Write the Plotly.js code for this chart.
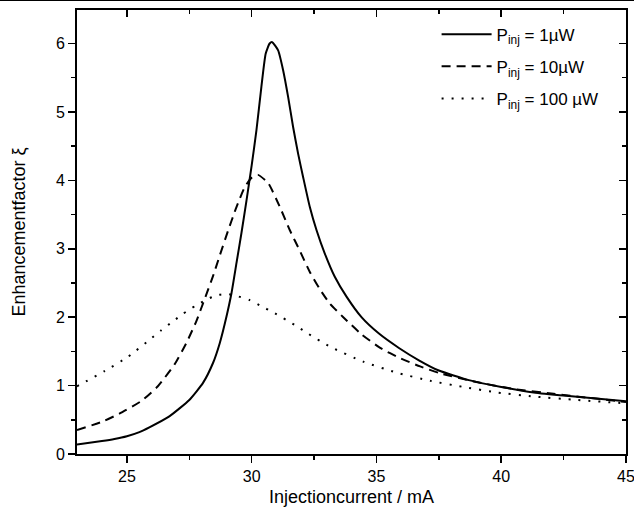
<!DOCTYPE html>
<html>
<head>
<meta charset="utf-8">
<script src="https://cdn.plot.ly/plotly-3.0.1.min.js"></script>
<style>
html,body{margin:0;padding:0;background:#fff;}
#wrap{position:relative;width:634px;height:520px;}
#topline{position:absolute;left:0;top:0;width:634px;height:1px;background:#000;z-index:10;}
#chart{width:634px;height:520px;}
</style>
</head>
<body>
<div id="wrap"><div id="topline"></div><div id="chart"></div></div>
<script>
// Series 1: P_inj = 1 µW (solid)
const current1 = [23, 24, 24.5, 25, 25.5, 25.9, 26.7, 27.5, 28.05, 28.45, 28.72, 28.99, 29.19, 29.39, 29.59, 29.79, 30.0, 30.19, 30.39, 30.56, 30.72, 30.82, 31.06, 31.26, 31.46, 31.66, 31.86, 32.06, 32.33, 32.6, 32.93, 33.33, 33.8, 34.4, 35.1, 35.9, 36.7, 37.5, 38.7, 40, 41.3, 42.6, 45];
const enh1     = [0.14, 0.19, 0.22, 0.26, 0.32, 0.39, 0.55, 0.79, 1.04, 1.33, 1.62, 2.01, 2.35, 2.79, 3.23, 3.70, 4.22, 4.73, 5.37, 5.85, 6.00, 6.02, 5.90, 5.61, 5.22, 4.78, 4.39, 4.05, 3.61, 3.27, 2.93, 2.59, 2.30, 2.00, 1.76, 1.55, 1.37, 1.22, 1.08, 0.98, 0.90, 0.85, 0.77];
// Series 2: P_inj = 10 µW (dashed)
const current2 = [23, 24, 24.7, 25.6, 26.24, 26.91, 27.38, 27.78, 28.12, 28.45, 28.72, 29.05, 29.39, 29.72, 30.0, 30.25, 30.66, 31.13, 31.53, 31.93, 32.33, 32.73, 33.13, 33.67, 34.4, 35.15, 35.95, 36.75, 37.55, 38.9, 40.5, 42.1, 45];
const enh2     = [0.35, 0.47, 0.59, 0.78, 0.99, 1.31, 1.62, 1.94, 2.27, 2.60, 2.90, 3.26, 3.61, 3.90, 4.04, 4.08, 3.96, 3.61, 3.27, 2.97, 2.66, 2.41, 2.20, 2.00, 1.75, 1.55, 1.40, 1.28, 1.18, 1.06, 0.95, 0.88, 0.76];
// Series 3: P_inj = 100 µW (dotted)
const current3 = [23, 24.1, 25.04, 25.91, 26.38, 26.85, 27.25, 27.72, 28.2, 28.59, 29.0, 29.4, 29.92, 30.39, 30.86, 31.8, 32.26, 33.13, 34.47, 35.8, 37.15, 38.48, 39.82, 41.3, 43.03, 45];
const enh3     = [0.99, 1.21, 1.42, 1.67, 1.81, 1.94, 2.05, 2.16, 2.26, 2.32, 2.34, 2.31, 2.25, 2.16, 2.07, 1.87, 1.76, 1.57, 1.35, 1.19, 1.07, 0.98, 0.90, 0.84, 0.79, 0.74];

const names = ['P<sub>inj</sub> = 1µW', 'P<sub>inj</sub> = 10µW', 'P<sub>inj</sub> = 100 µW'];
const xTitle = 'Injectioncurrent / mA';
const yTitle = 'Enhancementfactor ξ';

const FONT = 'Arial, "Liberation Sans", sans-serif';

const traces = [
  {x: current1, y: enh1, name: names[0], legendgroup: 'a', mode: 'lines', line: {color: '#000', width: 2, dash: 'solid', shape: 'spline', smoothing: 0.5}},
  {x: current2, y: enh2, name: names[1], legendgroup: 'b', mode: 'lines', line: {color: '#000', width: 2, dash: '9px,6px', shape: 'spline', smoothing: 0.5}},
  {x: current3, y: enh3, name: names[2], legendgroup: 'c', mode: 'lines', line: {color: '#000', width: 2, dash: '2px,8px', shape: 'spline', smoothing: 0.5}},
  // carrier for the mirrored (top/right) axes, invisible
  {x: current1, y: enh1, xaxis: 'x2', yaxis: 'y2', mode: 'lines', line: {width: 0, color: 'rgba(0,0,0,0)'}, showlegend: false, hoverinfo: 'skip'}
];

const tickCommon = {tickcolor: '#000', tickwidth: 1.5, showgrid: false, zeroline: false, showline: true, linecolor: '#000', linewidth: 2};

const layout = {
  width: 634, height: 520,
  margin: {l: 77, r: 8, t: 10, b: 66},
  paper_bgcolor: '#fff', plot_bgcolor: '#fff',
  font: {family: FONT, size: 16, color: '#000'},
  showlegend: true,
  legend: {x: 0.655, y: 0.985, xanchor: 'left', yanchor: 'top', bgcolor: 'rgba(0,0,0,0)',
           font: {family: FONT, size: 17, color: '#000'}, itemwidth: 50, tracegroupgap: 7},
  xaxis: Object.assign({range: [23, 45], dtick: 5, tick0: 0, ticks: 'outside', ticklen: 7,
          minor: {dtick: 2.5, tick0: 0, ticks: 'outside', ticklen: 4, tickwidth: 1.5, tickcolor: '#000', showgrid: false},
          tickfont: {family: FONT, size: 16, color: '#000'}, ticklabeloverflow: 'allow',
          title: {text: xTitle, font: {family: FONT, size: 18, color: '#000'}, standoff: 6}, automargin: false}, tickCommon),
  yaxis: Object.assign({range: [0, 6.49], dtick: 1, tick0: 0, ticks: 'outside', ticklen: 7,
          minor: {dtick: 0.5, tick0: 0, ticks: 'outside', ticklen: 4, tickwidth: 1.5, tickcolor: '#000', showgrid: false},
          tickfont: {family: FONT, size: 16, color: '#000'},
          title: {text: yTitle, font: {family: FONT, size: 18, color: '#000'}, standoff: 26}, automargin: false}, tickCommon),
  xaxis2: Object.assign({overlaying: 'x', anchor: 'y2', side: 'top', range: [23, 45], dtick: 5, tick0: 0, ticks: 'inside', ticklen: 7, showticklabels: false,
           minor: {dtick: 2.5, tick0: 0, ticks: 'inside', ticklen: 4, tickwidth: 1.5, tickcolor: '#000', showgrid: false}}, tickCommon),
  yaxis2: Object.assign({overlaying: 'y', anchor: 'x2', side: 'right', range: [0, 6.49], dtick: 1, tick0: 0, ticks: 'inside', ticklen: 7, showticklabels: false,
           minor: {dtick: 0.5, tick0: 0, ticks: 'inside', ticklen: 4, tickwidth: 1.5, tickcolor: '#000', showgrid: false}}, tickCommon)
};

Plotly.newPlot('chart', traces, layout, {displayModeBar: false, staticPlot: true});
</script>
</body>
</html>
